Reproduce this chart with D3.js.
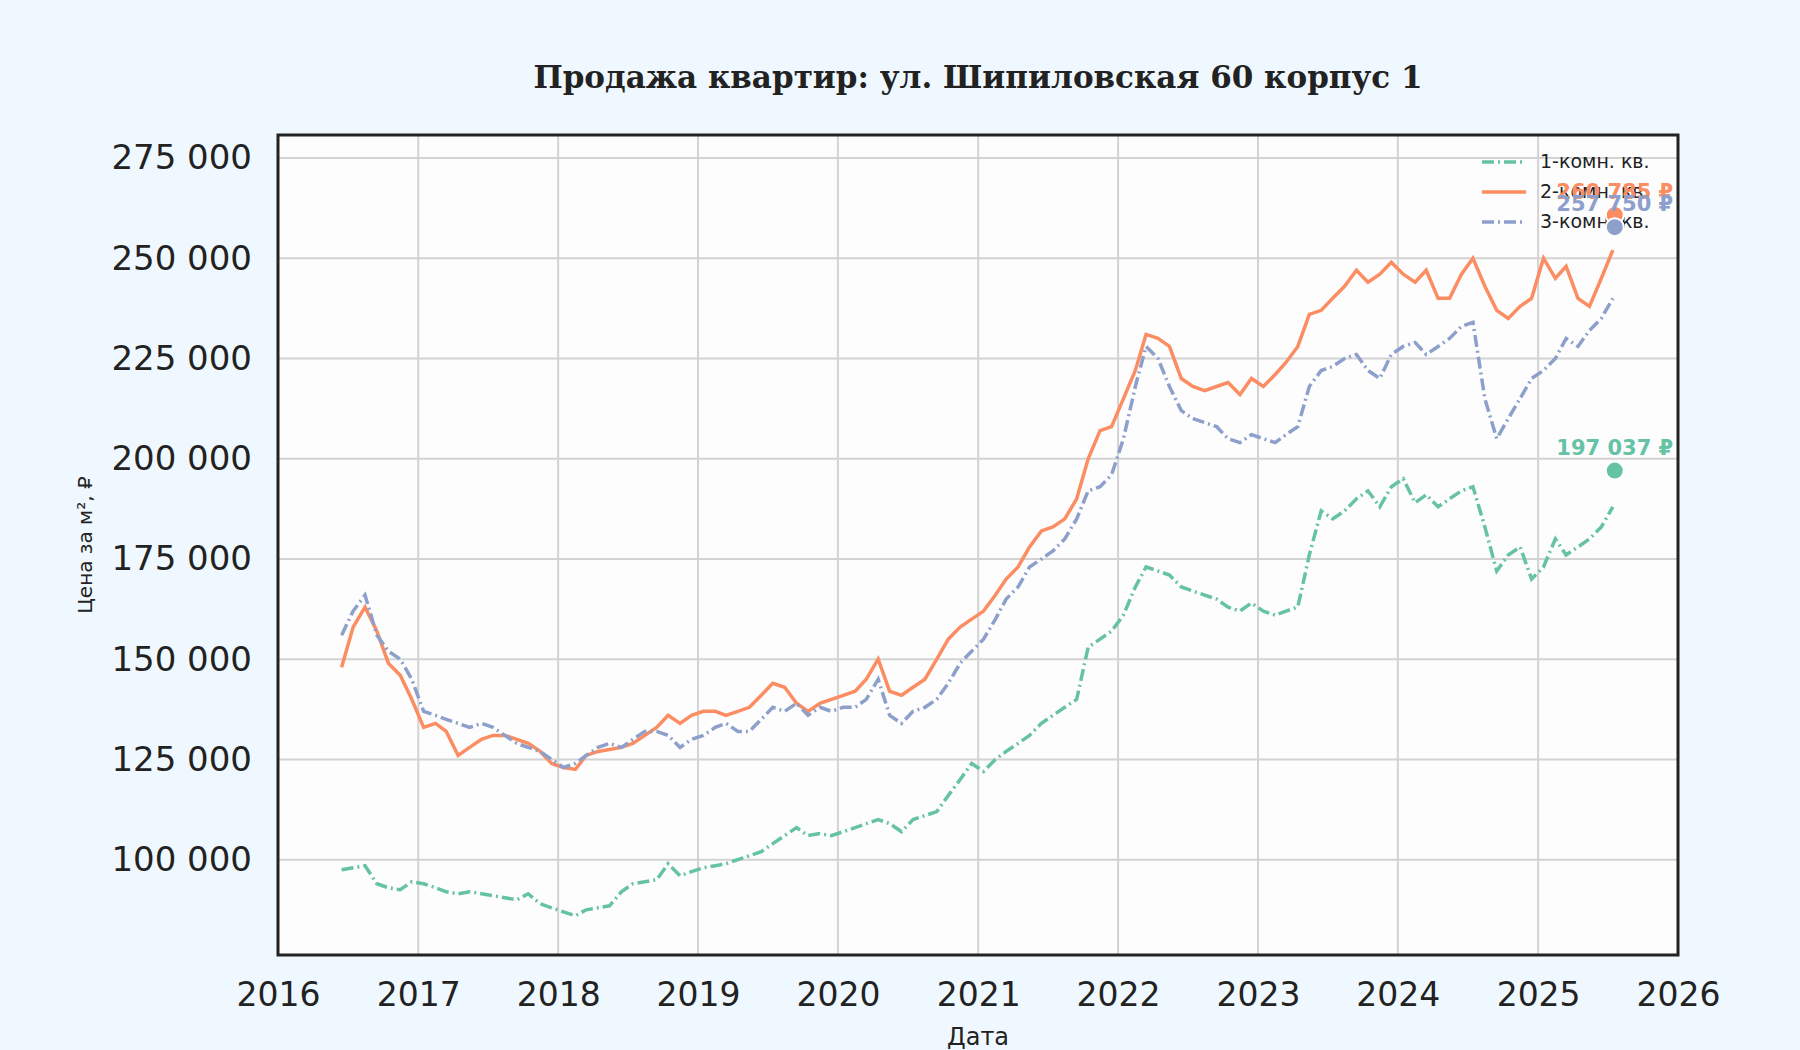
<!DOCTYPE html>
<html><head><meta charset="utf-8">
<script src="https://cdn.jsdelivr.net/npm/d3@7"></script>
<style>body{margin:0;background:#f0f8ff}</style></head>
<body><svg id="c" width="1800" height="1050"></svg>
<script>
const startMonth = "2016-06";
const series1 = [97500,98000,98500,94000,93000,92500,94500,94000,93000,92000,91500,92000,91500,91000,90500,90000,91500,89000,88000,87000,86000,87500,88000,88500,92000,94000,94500,95000,99000,96000,97000,98000,98500,99000,100000,101000,102000,104000,106000,108000,106000,106500,106000,107000,108000,109000,110000,109000,107000,110000,111000,112000,116000,120000,124000,122000,125000,127000,129000,131000,134000,136000,138000,140000,153000,155000,157000,161000,168000,173000,172000,171000,168000,167000,166000,165000,163000,162000,164000,162000,161000,162000,163000,176000,187000,185000,187000,190000,192000,188000,193000,195000,189000,191000,188000,190000,192000,193000,183000,172000,176000,178000,170000,173000,180000,176000,178000,180000,183000,188000];
const series2 = [148000,158000,163000,157000,149000,146000,140000,133000,134000,132000,126000,128000,130000,131000,131000,130000,129000,127000,124000,123000,122500,126000,127000,127500,128000,129000,131000,133000,136000,134000,136000,137000,137000,136000,137000,138000,141000,144000,143000,139000,137000,139000,140000,141000,142000,145000,150000,142000,141000,143000,145000,150000,155000,158000,160000,162000,166000,170000,173000,178000,182000,183000,185000,190000,200000,207000,208000,215000,222000,231000,230000,228000,220000,218000,217000,218000,219000,216000,220000,218000,221000,224000,228000,236000,237000,240000,243000,247000,244000,246000,249000,246000,244000,247000,240000,240000,246000,250000,243000,237000,235000,238000,240000,250000,245000,248000,240000,238000,245000,252000];
const series3 = [156000,162000,166000,156000,152000,150000,145000,137000,136000,135000,134000,133000,134000,133000,131000,129000,128000,127000,125000,123000,124000,126000,128000,129000,128000,130000,132000,132000,131000,128000,130000,131000,133000,134000,132000,132000,135000,138000,137000,139000,136000,138000,137000,138000,138000,140000,145000,136000,134000,137000,138000,140000,144000,149000,152000,155000,160000,165000,168000,173000,175000,177000,180000,185000,192000,193000,196000,205000,218000,228000,225000,218000,212000,210000,209000,208000,205000,204000,206000,205000,204000,206000,208000,218000,222000,223000,225000,226000,222000,220000,226000,228000,229000,226000,228000,230000,233000,234000,215000,205000,210000,215000,220000,222000,225000,230000,228000,232000,235000,240000];
const lastValues = [197037, 260785, 257750];
const lastDate = "2025-07-20";
const names = ["1-комн. кв.","2-комн. кв.","3-комн. кв."];
const colors = ["#66c2a5","#fc8d62","#8da0cb"];
const yTicks = [100000,125000,150000,175000,200000,225000,250000,275000];
const xTickYears = [2016,2017,2018,2019,2020,2021,2022,2023,2024,2025,2026];

const svg = d3.select("#c");
const L=278,R=1678,T=135,B=955;
const x = d3.scaleTime().domain([new Date(2016,0,1),new Date(2026,0,1)]).range([L,R]);
const y = d3.scaleLinear().domain([76230,280730]).range([B,T]);
const p0 = d3.timeParse("%Y-%m")(startMonth);
const dates = series1.map((_,i)=>d3.timeMonth.offset(p0,i));
dates.forEach(d=>d.setDate(15));
svg.append("rect").attr("x",L).attr("y",T).attr("width",R-L).attr("height",B-T).attr("fill","#fdfdfd");
const fmt = v => d3.format(",")(v).replace(/,/g," ");
svg.append("g").selectAll("line").data(yTicks).join("line")
 .attr("x1",L).attr("x2",R).attr("y1",d=>y(d)).attr("y2",d=>y(d)).attr("stroke","#d3d3d3").attr("stroke-width",2);
svg.append("g").selectAll("line").data(xTickYears).join("line")
 .attr("y1",T).attr("y2",B).attr("x1",d=>x(new Date(d,0,1))).attr("x2",d=>x(new Date(d,0,1))).attr("stroke","#d3d3d3").attr("stroke-width",2);
const yAxis = svg.append("g").attr("transform",`translate(${L},0)`).call(d3.axisLeft(y).tickValues(yTicks).tickFormat(fmt).tickSize(0).tickPadding(26));
yAxis.select(".domain").remove();
yAxis.selectAll("text").attr("font-family","DejaVu Sans").attr("font-size",34).attr("fill","#222");
const xAxis = svg.append("g").attr("transform",`translate(0,${B})`).call(d3.axisBottom(x).tickValues(xTickYears.map(v=>new Date(v,0,1))).tickFormat(d3.timeFormat("%Y")).tickSize(0).tickPadding(28));
xAxis.select(".domain").remove();
xAxis.selectAll("text").attr("font-family","DejaVu Sans").attr("font-size",33).attr("fill","#222");
const all=[series1,series2,series3];
const dashes=["12,4,2,4",null,"12,4,2,4"];
all.forEach((s,k)=>{
  const pts = s.map((v,i)=>[dates[i],v]);
  svg.append("path").datum(pts).attr("fill","none").attr("stroke",colors[k]).attr("stroke-width",3.5)
    .attr("stroke-dasharray",dashes[k]).attr("d",d3.line().x(d=>x(d[0])).y(d=>y(d[1])));
});
const lg = svg.append("g");
names.forEach((n,k)=>{
  const yy = 162 + k*30;
  lg.append("line").attr("x1",1482).attr("x2",1526).attr("y1",yy).attr("y2",yy).attr("stroke",colors[k]).attr("stroke-width",3.5).attr("stroke-dasharray",dashes[k]);
  lg.append("text").attr("x",1540).attr("y",yy+6).text(n).attr("font-family","DejaVu Sans").attr("font-size",19).attr("fill","#222");
});
const ld = d3.timeParse("%Y-%m-%d")(lastDate);
[1,2,0].forEach(k=>{
  const cx=x(ld), cy=y(lastValues[k]);
  svg.append("text").attr("x",cx).attr("y",cy-16).attr("text-anchor","middle").text(fmt(lastValues[k])+" ₽")
    .attr("font-family","DejaVu Sans").attr("font-weight","bold").attr("font-size",21).attr("fill",colors[k]);
  svg.append("circle").attr("cx",cx).attr("cy",cy).attr("r",9).attr("fill",colors[k]).attr("stroke","#fff").attr("stroke-width",2);
});
svg.append("rect").attr("x",L).attr("y",T).attr("width",R-L).attr("height",B-T).attr("fill","none").attr("stroke","#222").attr("stroke-width",3);
svg.append("text").attr("x",(L+R)/2).attr("y",88).attr("text-anchor","middle").text("Продажа квартир: ул. Шипиловская 60 корпус 1")
  .attr("font-family","DejaVu Serif").attr("font-weight","bold").attr("font-size",31).attr("fill","#222");
svg.append("text").attr("x",(L+R)/2).attr("y",1045).attr("text-anchor","middle").text("Дата").attr("font-family","DejaVu Sans").attr("font-size",24).attr("fill","#222");
svg.append("text").attr("transform",`translate(92,${(T+B)/2}) rotate(-90)`).attr("text-anchor","middle").text("Цена за м², ₽").attr("font-family","DejaVu Sans").attr("font-size",20).attr("fill","#222");
</script></body></html>
